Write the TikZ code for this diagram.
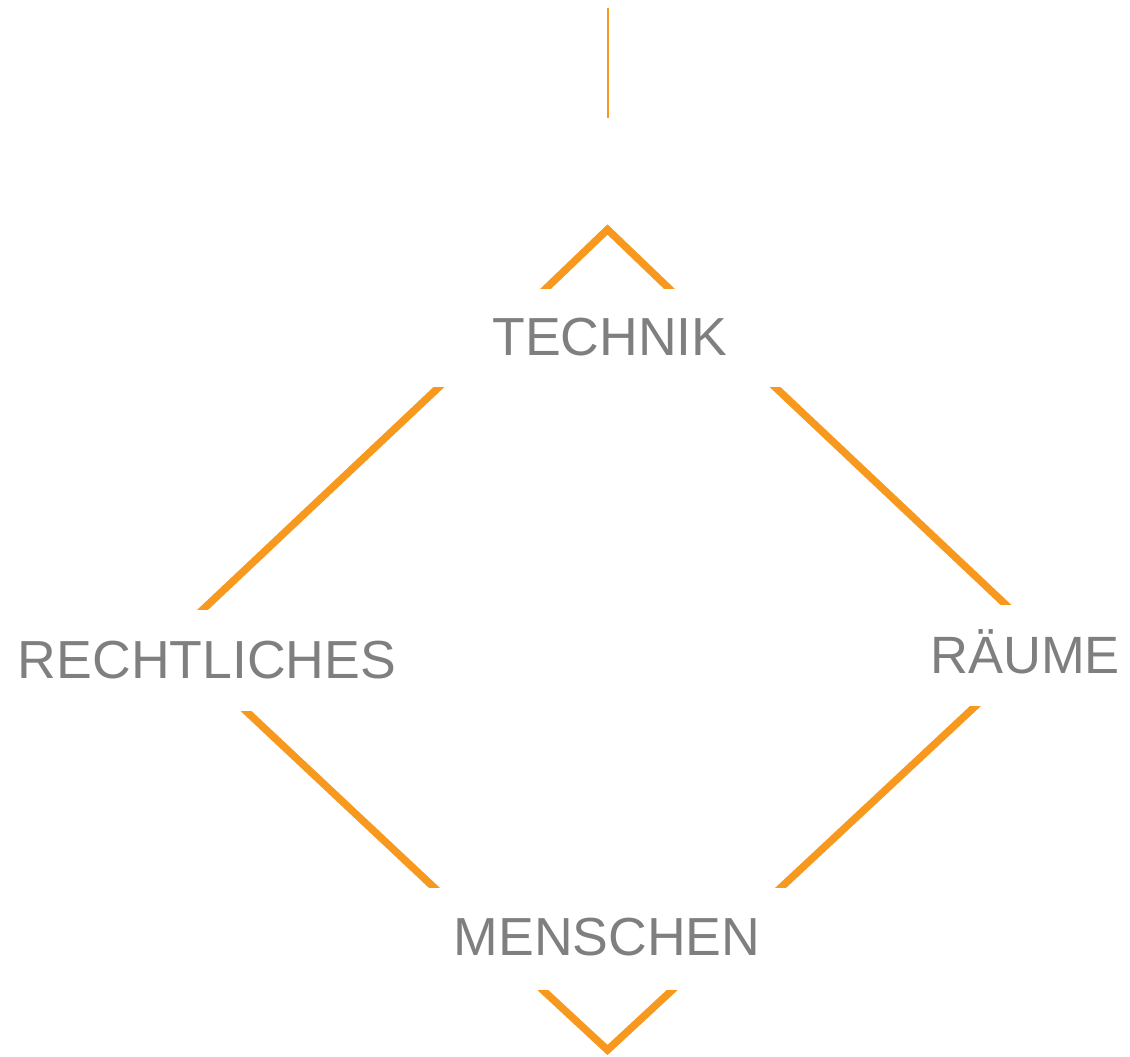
\documentclass[tikz,border=0pt]{standalone}
\usepackage{fontspec}
\setmainfont{Liberation Sans}
\definecolor{lineorange}{HTML}{F7991F}
\definecolor{labelgray}{HTML}{7F7F7F}
\begin{document}
\begin{tikzpicture}[x=1pt,y=-1pt,
  oline/.style={draw=lineorange,line width=7.5pt,line cap=butt,line join=miter,shorten <=-14pt,shorten >=-14pt},
  thinline/.style={draw=lineorange,line width=1.6pt},
  label/.style={text=labelgray,font=\fontsize{53.6}{60}\selectfont,anchor=base,inner sep=0pt}]
\useasboundingbox (0,0) rectangle (1130,1057);
% labels
\node[label] (technik) at (610,355) {TECHNIK};
\node[label] (recht) at (207,678) {RECHTLICHES};
\node[label,font=\fontsize{52.5}{60}\selectfont] (raeume) at (1025,673) {RÄUME};
\node[label] (menschen) at (607,955) {MENSCHEN};
% thin top line
\coordinate (t1) at (608,8);
\coordinate (t2) at (608,118);
\draw[thinline] (t1) -- (t2);
% top chevron
\begin{scope}
\clip (0,0) rectangle (1130,288);
\draw[draw=lineorange,line width=7.5pt,line join=miter] (535,299) -- (607.5,229.5) -- (680,299);
\end{scope}
% TECHNIK - RECHTLICHES
\begin{scope}
\clip (0,387) rectangle (1130,609);
\draw[oline] (439,387) -- (203.5,609);
\end{scope}
% TECHNIK - RAEUME
\begin{scope}
\clip (0,387) rectangle (1130,604);
\draw[oline] (775,387) -- (1005,604);
\end{scope}
% RECHTLICHES - MENSCHEN
\begin{scope}
\clip (0,711) rectangle (1130,887);
\draw[oline] (246,711) -- (433.5,887);
\end{scope}
% RAEUME - MENSCHEN
\begin{scope}
\clip (0,706) rectangle (1130,887);
\draw[oline] (975.5,706) -- (781.5,887);
\end{scope}
% bottom chevron
\begin{scope}
\clip (0,990) rectangle (1130,1057);
\draw[draw=lineorange,line width=7.5pt,line join=miter] (532,980) -- (607.5,1050) -- (683,980);
\end{scope}
\end{tikzpicture}
\end{document}
